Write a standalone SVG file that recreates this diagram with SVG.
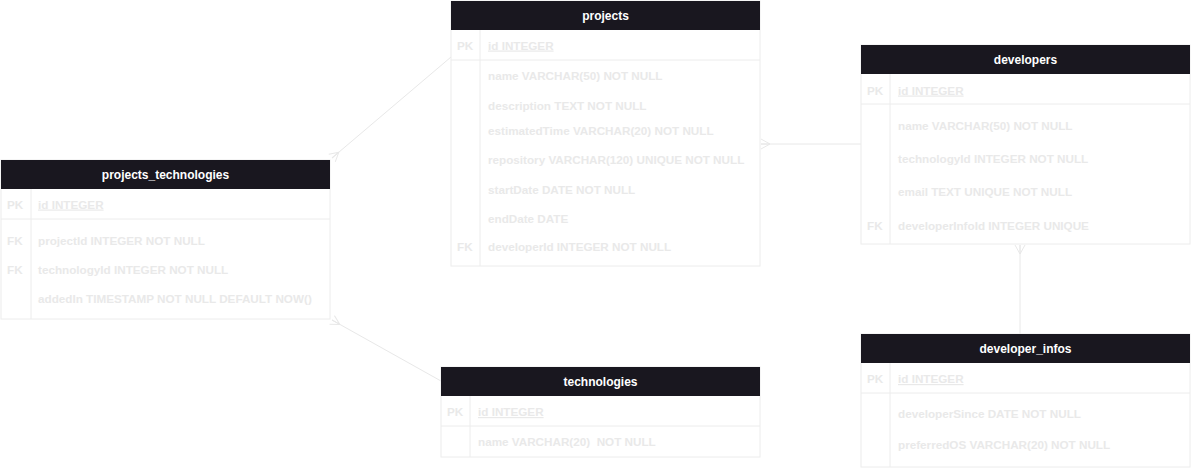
<svg xmlns="http://www.w3.org/2000/svg" width="1192" height="472" viewBox="0 0 1192 472">
<style>
.bg{fill:#ffffff}
.box{fill:#ffffff;stroke:#ececec;stroke-width:1}
.hdr{fill:#19171f}
.ln{stroke:#ececec;stroke-width:1;fill:none}
.ht{font-family:"Liberation Sans",Arial,sans-serif;font-weight:bold;font-size:12px;fill:#ffffff;text-anchor:middle}
.ft{font-family:"Liberation Sans",Arial,sans-serif;font-weight:bold;font-size:11.7px;fill:#e9e9e9}
.pk{text-decoration:underline}
.conn{stroke:#e8e8e8;stroke-width:1;fill:none}
</style>
<defs>
<marker id="many" markerUnits="userSpaceOnUse" orient="auto-start-reverse" refX="0" refY="0" markerWidth="20" markerHeight="20" viewBox="-10 -10 20 20" overflow="visible">
<path d="M-9,0 L0,-5 M-9,0 L0,0 M-9,0 L0,5" stroke="#e8e8e8" stroke-width="1" fill="none"/>
</marker>
</defs>
<rect class="bg" x="0" y="0" width="1192" height="472"/>

<g id="connectors">
<path class="conn" d="M332,158 L451,57" marker-start="url(#many)"/>
<path class="conn" d="M332,320 L441,381" marker-start="url(#many)"/>
<path class="conn" d="M761,144 L861,144" marker-start="url(#many)"/>
<path class="conn" d="M1020,245 L1020,334" marker-start="url(#many)"/>
</g>

<g id="projects_technologies">
<rect class="box" x="1" y="160" width="329" height="159"/>
<rect class="hdr" x="1" y="160" width="329" height="29"/>
<line class="ln" x1="1" y1="219" x2="330" y2="219"/>
<line class="ln" x1="31" y1="189" x2="31" y2="319"/>
<text class="ht" x="165.5" y="179">projects_technologies</text>
<text class="ft" x="7" y="208.5">PK</text>
<text class="ft pk" x="38" y="208.5">id INTEGER</text>
<text class="ft" x="7" y="244.5">FK</text>
<text class="ft" x="38" y="244.5">projectId INTEGER NOT NULL</text>
<text class="ft" x="7" y="273.5">FK</text>
<text class="ft" x="38" y="273.5">technologyId INTEGER NOT NULL</text>
<text class="ft" x="38" y="302.5">addedIn TIMESTAMP NOT NULL DEFAULT NOW()</text>
</g>

<g id="projects">
<rect class="box" x="451" y="1" width="309" height="265"/>
<rect class="hdr" x="451" y="1" width="309" height="29"/>
<line class="ln" x1="451" y1="60" x2="760" y2="60"/>
<line class="ln" x1="480" y1="30" x2="480" y2="266"/>
<text class="ht" x="605.5" y="20">projects</text>
<text class="ft" x="457" y="49.5">PK</text>
<text class="ft pk" x="488" y="49.5">id INTEGER</text>
<text class="ft" x="488" y="80">name VARCHAR(50) NOT NULL</text>
<text class="ft" x="488" y="110">description TEXT NOT NULL</text>
<text class="ft" x="488" y="134.5">estimatedTime VARCHAR(20) NOT NULL</text>
<text class="ft" x="488" y="164">repository VARCHAR(120) UNIQUE NOT NULL</text>
<text class="ft" x="488" y="193.5">startDate DATE NOT NULL</text>
<text class="ft" x="488" y="222.5">endDate DATE</text>
<text class="ft" x="457" y="251">FK</text>
<text class="ft" x="488" y="251">developerId INTEGER NOT NULL</text>
</g>

<g id="developers">
<rect class="box" x="861" y="45" width="329" height="199"/>
<rect class="hdr" x="861" y="45" width="329" height="29"/>
<line class="ln" x1="861" y1="104" x2="1190" y2="104"/>
<line class="ln" x1="890" y1="74" x2="890" y2="244"/>
<text class="ht" x="1025.5" y="64">developers</text>
<text class="ft" x="867" y="94.5">PK</text>
<text class="ft pk" x="898" y="94.5">id INTEGER</text>
<text class="ft" x="898" y="129.5">name VARCHAR(50) NOT NULL</text>
<text class="ft" x="898" y="162.5">technologyId INTEGER NOT NULL</text>
<text class="ft" x="898" y="196">email TEXT UNIQUE NOT NULL</text>
<text class="ft" x="867" y="230">FK</text>
<text class="ft" x="898" y="230">developerInfoId INTEGER UNIQUE</text>
</g>

<g id="developer_infos">
<rect class="box" x="861" y="334" width="329" height="133"/>
<rect class="hdr" x="861" y="334" width="329" height="29"/>
<line class="ln" x1="861" y1="393" x2="1190" y2="393"/>
<line class="ln" x1="890" y1="363" x2="890" y2="467"/>
<text class="ht" x="1025.5" y="353">developer_infos</text>
<text class="ft" x="867" y="383">PK</text>
<text class="ft pk" x="898" y="383">id INTEGER</text>
<text class="ft" x="898" y="418">developerSince DATE NOT NULL</text>
<text class="ft" x="898" y="448.5">preferredOS VARCHAR(20) NOT NULL</text>
</g>

<g id="technologies">
<rect class="box" x="441" y="367" width="319" height="90"/>
<rect class="hdr" x="441" y="367" width="319" height="29"/>
<line class="ln" x1="441" y1="426" x2="760" y2="426"/>
<line class="ln" x1="470" y1="396" x2="470" y2="457"/>
<text class="ht" x="600.5" y="386">technologies</text>
<text class="ft" x="447" y="416">PK</text>
<text class="ft pk" x="478" y="416">id INTEGER</text>
<text class="ft" x="478" y="446" xml:space="preserve">name VARCHAR(20)  NOT NULL</text>
</g>
</svg>
